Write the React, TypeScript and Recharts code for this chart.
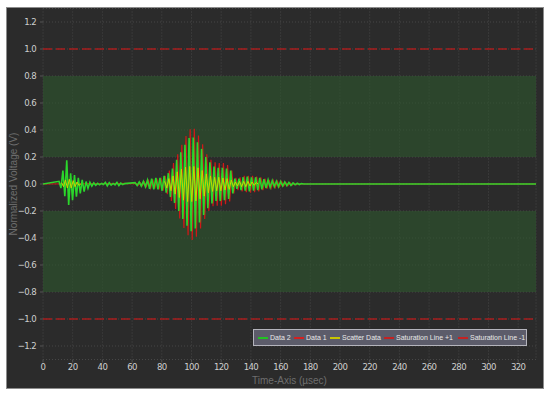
import React from 'react';
import {
  LineChart,
  Line,
  XAxis,
  YAxis,
  CartesianGrid,
  ReferenceArea,
  ReferenceLine,
  Legend,
} from 'recharts';

// ---- axes ----
const xTicks = [0, 20, 40, 60, 80, 100, 120, 140, 160, 180, 200, 220, 240, 260, 280, 300, 320];
const yTicks = [-1.2, -1.0, -0.8, -0.6, -0.4, -0.2, 0.0, 0.2, 0.4, 0.6, 0.8, 1.0, 1.2];
const X_MAX = 332;
const Y_DOMAIN = [-1.3, 1.3];

// ---- bands & saturation ----
const bandUpper = [0.2, 0.8];
const bandLower = [-0.8, -0.2];
const saturationLevels = [1, -1];

// ---- Data 2 (green) ----
const data2FirstStart = 10.8;
const data2FirstStep = 1.3;
const data2First = [
  0.02, -0.03, 0.1, -0.09, 0.175, -0.155, 0.08, -0.12, 0.066, -0.094, 0.045, -0.07,
  0.03, -0.057, 0.018, -0.032, 0.012, -0.015, 0.008, -0.01, 0.005, -0.006, 0.004, -0.004,
  0.012, -0.014, 0.01, -0.008, 0.004, -0.006, 0.012, -0.012, 0.006, -0.004, 0.003,
];
const data2MainStart = 62;
const data2MainStep = 1.4;
const data2Main = [
  0.01, -0.012, 0.015, -0.015, 0.02, -0.02, 0.03, -0.035, 0.04, -0.04, 0.045, -0.04,
  0.045, -0.05, 0.06, -0.065, 0.08, -0.095, 0.115, -0.14, 0.18, -0.2, 0.235, -0.26,
  0.29, -0.31, 0.34, -0.35, 0.345, -0.33, 0.31, -0.285, 0.26, -0.23, 0.2, -0.18,
  0.16, -0.145, 0.13, -0.125, 0.12, -0.125, 0.12, -0.12, 0.115, -0.11, 0.1, -0.07,
  0.04, -0.035, 0.04, -0.045, 0.05, -0.05, 0.055, -0.055, 0.05, -0.05, 0.05, -0.045,
  0.045, -0.04, 0.035, -0.03, 0.03, -0.025, 0.025, -0.02, 0.02, -0.02, 0.018, -0.015,
  0.015, -0.012, 0.012, -0.01, 0.008, -0.006, 0.005, -0.004, 0.003, 0,
];

// ---- Data 1 (red) ----
const data1MainStart = 62.7;
const data1MainStep = 1.4;
const data1Main = [
  0.005, -0.008, 0.01, -0.012, 0.015, -0.018, 0.025, -0.03, 0.035, -0.035, 0.04, -0.04,
  0.045, -0.05, 0.06, -0.075, 0.1, -0.125, 0.155, -0.185, 0.22, -0.255, 0.29, -0.325,
  0.355, -0.38, 0.405, -0.415, 0.41, -0.39, 0.36, -0.33, 0.295, -0.26, 0.22, -0.2,
  0.18, -0.165, 0.16, -0.16, 0.155, -0.16, 0.155, -0.15, 0.14, -0.13, 0.1, -0.07,
  0.045, -0.045, 0.05, -0.055, 0.06, -0.06, 0.06, -0.065, 0.06, -0.06, 0.055, -0.055,
  0.05, -0.045, 0.04, -0.035, 0.03, -0.03, 0.025, -0.025, 0.02, -0.02, 0.018, -0.015,
  0.012, -0.012, 0.01, -0.008, 0.006, -0.005, 0.004, -0.003, 0.002, 0,
];

// ---- Scatter Data (yellow) ----
const scatterFirstStart = 12.5;
const scatterFirstStep = 1.3;
const scatterFirst = [0.01, -0.02, 0.03, -0.03, 0.035, -0.03, 0.025, -0.02, 0.015, -0.01, 0];
const scatterMainStart = 82;
const scatterMainStep = 1.4;
const scatterMain = [
  0.02, -0.03, 0.04, -0.05, 0.06, -0.075, 0.09, -0.1, 0.11, -0.12, 0.125, -0.13,
  0.13, -0.13, 0.13, -0.125, 0.12, -0.11, 0.1, -0.09, 0.075, -0.065, 0.06, -0.055,
  0.05, -0.05, 0.05, -0.05, 0.045, -0.045, 0.04, -0.04, 0.03, -0.02, 0.015, -0.015,
  0.02, -0.02, 0.02, -0.02, 0.02, -0.015, 0.015, -0.01, 0.01, 0,
];

// ---- legend ----
const legendNames = ['Data 2', 'Data 1', 'Scatter Data', 'Saturation Line +1', 'Saturation Line -1'];
const legendColors = ['#22c322', '#d42020', '#c8c400', '#c42222', '#c42222'];
const legendOffsets = [4, 40, 76, 130, 204];

const COLORS = {
  data1: '#d01818',
  data2: '#2bd62b',
  scatter: '#c4d800',
  sat: '#a81e1e',
};

type Pt = { t: number; v: number | null };
const seg = (start: number, step: number, vals: number[]): Pt[] =>
  vals.map((v, i) => ({ t: +(start + i * step).toFixed(3), v }));

const data2Series: Pt[] = [
  { t: 0, v: 0 },
  ...seg(data2FirstStart, data2FirstStep, data2First),
  ...seg(data2MainStart, data2MainStep, data2Main),
  { t: X_MAX, v: 0 },
];
const data1Series: Pt[] = [
  { t: 0, v: 0 },
  ...seg(data1MainStart, data1MainStep, data1Main),
  { t: X_MAX, v: 0 },
];
const scatterSeries: Pt[] = [
  ...seg(scatterFirstStart, scatterFirstStep, scatterFirst),
  { t: 40, v: null },
  ...seg(scatterMainStart, scatterMainStep, scatterMain),
];

const tickFont = "'Liberation Sans Narrow', 'DejaVu Sans Condensed', 'Liberation Sans', sans-serif";

const LegendBox = () => (
  <div
    style={{
      position: 'relative',
      width: 274,
      height: 17,
      boxSizing: 'border-box',
      background: '#5c5c6a',
      border: '1px solid #b4b4bc',
      fontFamily: "'Liberation Sans', Arial, sans-serif",
      fontSize: 7,
      color: '#e8e8e8',
    }}
  >
    {legendNames.map((n, i) => (
      <div
        key={n}
        style={{
          position: 'absolute',
          left: legendOffsets[i],
          top: 0,
          height: 15,
          display: 'flex',
          alignItems: 'center',
          whiteSpace: 'nowrap',
        }}
      >
        <span style={{ display: 'inline-block', width: 10, height: 2, background: legendColors[i], marginRight: 2 }} />
        <span>{n}</span>
      </div>
    ))}
  </div>
);

const fmtY = (v: number) => {
  const s = Math.abs(v).toFixed(1);
  return v < -0.0001 ? '\u2212' + s : s;
};

export default function App() {
  return (
    <div style={{ position: 'absolute', left: 0, top: 0, width: 550, height: 394, background: '#ffffff', overflow: 'hidden' }}>
      <div
        style={{
          position: 'absolute',
          left: 6,
          top: 7,
          width: 538,
          height: 382,
          boxSizing: 'border-box',
          background: '#2b2b2b',
          border: '1px solid #8c8c8c',
        }}
      />
      <div style={{ position: 'absolute', left: 0, top: 0 }}>
        <LineChart width={550} height={394} margin={{ top: 8.5, right: 14, bottom: 9.5, left: 8 }}>
          <ReferenceArea x1={0} x2={X_MAX} y1={bandUpper[0]} y2={bandUpper[1]} fill="#2d572d" fillOpacity={0.6} stroke="none" />
          <ReferenceArea x1={0} x2={X_MAX} y1={bandLower[0]} y2={bandLower[1]} fill="#2d572d" fillOpacity={0.6} stroke="none" />
          <CartesianGrid stroke="#474747" strokeDasharray="1 2" />
          <XAxis
            dataKey="t"
            type="number"
            domain={[0, X_MAX]}
            ticks={xTicks}
            allowDataOverflow
            height={25}
            axisLine={false}
            tickLine={{ stroke: '#555' }}
            tickSize={3}
            tickMargin={1}
            tick={{ fill: '#cfcfcf', fontSize: 9.5, fontFamily: tickFont, letterSpacing: -0.6 }}
            label={{ value: 'Time-Axis (\u00b5sec)', position: 'insideBottom', offset: 1, fill: '#6e6e6e', fontSize: 10, fontFamily: "'Liberation Sans', Arial, sans-serif" }}
          />
          <YAxis
            type="number"
            domain={Y_DOMAIN}
            ticks={yTicks}
            allowDataOverflow
            width={35}
            axisLine={false}
            tickLine={{ stroke: '#555' }}
            tickSize={3}
            tickMargin={4}
            tickFormatter={fmtY}
            tick={{ fill: '#cfcfcf', fontSize: 9.5, fontFamily: tickFont, letterSpacing: -0.6 }}
            label={{ value: 'Normalized Voltage (V)', angle: -90, position: 'insideLeft', offset: 5, fill: '#6e6e6e', fontSize: 10, fontFamily: "'Liberation Sans', Arial, sans-serif", style: { textAnchor: 'middle' } }}
          />
          {saturationLevels.map((s) => (
            <ReferenceLine key={s} y={s} stroke={COLORS.sat} strokeWidth={1.5} strokeDasharray="9 4" />
          ))}
          <Line data={data1Series} dataKey="v" type="linear" stroke={COLORS.data1} strokeWidth={1.2} dot={false} isAnimationActive={false} />
          <Line data={data2Series} dataKey="v" type="linear" stroke={COLORS.data2} strokeWidth={1.6} dot={false} isAnimationActive={false} />
          <Line data={scatterSeries} dataKey="v" type="linear" stroke={COLORS.scatter} strokeWidth={1} dot={false} isAnimationActive={false} />
          <Legend
            layout="horizontal"
            verticalAlign="middle"
            align="center"
            wrapperStyle={{ left: 253, top: 329, width: 274, height: 17 }}
            content={() => <LegendBox />}
          />
        </LineChart>
      </div>
    </div>
  );
}
